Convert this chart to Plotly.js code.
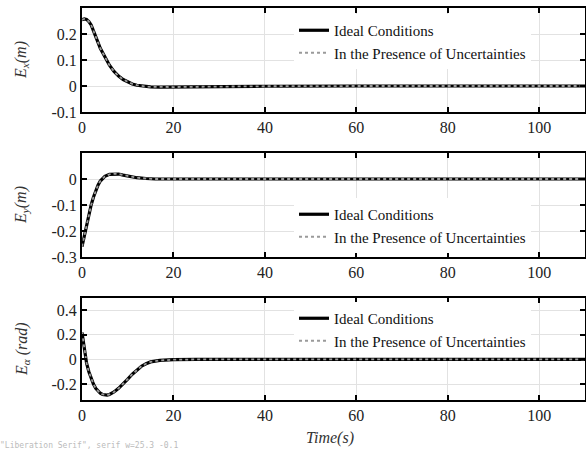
<!DOCTYPE html>
<html><head><meta charset="utf-8">
<script src="https://cdn.plot.ly/plotly-3.0.1.min.js"></script>
<style>
body{margin:0;background:#fff;font-family:"Liberation Serif",serif}
#c{width:586px;height:450px}
#dbg{position:absolute;left:0;top:441px;font:8px monospace;color:#bbb;white-space:nowrap}
</style>
</head><body><div id="c"></div><div id="dbg"></div>
<script>
// Time samples (s) and error values
const tX  = [0,0.5,1,1.5,2,2.5,3,3.5,4,5,6,7,8,9,10,11,12,13,14,15,17,20,25,30,40,60,80,110];
const ex  = [0.255,0.258,0.256,0.248,0.235,0.215,0.192,0.168,0.145,0.11,0.08,0.056,0.038,0.025,0.015,0.008,0.003,0,-0.002,-0.003,-0.004,-0.004,-0.003,-0.002,-0.001,0,0,0];

const tY  = [0,0.5,1,1.5,2,2.5,3,3.5,4,5,6,7,8,9,10,12,14,16,20,30,40,60,80,110];
const ey  = [-0.26,-0.22,-0.17,-0.13,-0.1,-0.07,-0.045,-0.024,-0.008,0.01,0.018,0.02,0.019,0.015,0.011,0.005,0.002,0,0,0,0,0,0,0];

const tA  = [0,0.3,0.6,1,1.5,2,2.5,3,3.5,4,4.5,5,5.5,6,7,8,9,10,11,12,13,14,15,17,20,25,40,60,80,110];
const ea  = [0.22,0.15,0.06,-0.03,-0.1,-0.16,-0.2,-0.235,-0.258,-0.275,-0.285,-0.29,-0.29,-0.285,-0.265,-0.235,-0.2,-0.16,-0.12,-0.085,-0.055,-0.035,-0.02,-0.008,-0.002,0,0,0,0,0];

const seriesNames = ['Ideal Conditions','In the Presence of Uncertainties'];
const xTicks = [0,20,40,60,80,100];
const y1Ticks = [-0.1,0,0.1,0.2], y1Text = ['-0.1','0','0.1','0.2'];
const y2Ticks = [-0.3,-0.2,-0.1,0], y2Text = ['-0.3','-0.2','-0.1','0'];
const y3Ticks = [-0.2,0,0.2,0.4], y3Text = ['-0.2','0','0.2','0.4'];
const yLabels = ['<i>E</i><sub><i>x</i></sub><i>(m)</i>','<i>E</i><sub><i>y</i></sub><i>(m)</i>','<i>E</i><sub><i>α</i></sub><i> (rad)</i>'];
const xLabel = '<i>Time(s)</i>';

const FONT = '"Liberation Serif", serif';
const W = 503, H = 450, L = 82;
function px(xp){return (xp-L)/W;}
function py(yp){return 1-yp/H;}

const sets = [[tX,ex],[tY,ey],[tA,ea]];
const traces = [];
sets.forEach((s,i)=>{
  const sfx = i===0?'':String(i+1);
  traces.push({x:s[0],y:s[1],mode:'lines',name:seriesNames[0],line:{color:'#000',width:3.2},
    xaxis:'x'+sfx,yaxis:'y'+sfx,legend:'legend'+sfx});
  traces.push({x:s[0],y:s[1],mode:'lines',name:seriesNames[1],line:{color:'#9a9a9a',width:1.8,dash:'dot'},
    xaxis:'x'+sfx,yaxis:'y'+sfx,legend:'legend'+sfx});
});

function xa(anchor){return {range:[0,110],tickvals:xTicks,ticks:'inside',ticklen:5,tickwidth:2,tickcolor:'#000',
  showline:true,linecolor:'#000',linewidth:2,mirror:'ticks',showgrid:true,gridcolor:'#e2e2e2',gridwidth:1,zeroline:false,
  anchor:anchor,tickfont:{family:FONT,size:16,color:'#222'},domain:[0,1]};}
function ya(anchor,range,tv,tt,dom){return {range:range,tickvals:tv,ticktext:tt,ticks:'inside',ticklen:5,tickwidth:2,tickcolor:'#000',
  showline:true,linecolor:'#000',linewidth:2,mirror:'ticks',showgrid:true,gridcolor:'#e2e2e2',gridwidth:1,zeroline:false,
  anchor:anchor,domain:dom,tickfont:{family:FONT,size:16,color:'#222'}};}
function lg(ytop){return {x:px(294),y:py(ytop),xanchor:'left',yanchor:'top',bgcolor:'#fff',borderwidth:0,
  font:{family:FONT,size:15,color:'#111'}};}

const annFont = {family:FONT,size:16,color:'#333'};
const layout = {
  width:586,height:450,margin:{l:L,r:1,t:0,b:0},paper_bgcolor:'#fff',plot_bgcolor:'#fff',
  font:{family:FONT,size:16},
  xaxis:xa('y'),xaxis2:xa('y2'),xaxis3:xa('y3'),
  yaxis:ya('x',[-0.1,0.3],y1Ticks,y1Text,[py(112),py(8)]),
  yaxis2:ya('x2',[-0.3,0.1],y2Ticks,y2Text,[py(257),py(153)]),
  yaxis3:ya('x3',[-0.33,0.5],y3Ticks,y3Text,[py(400),py(298)]),
  legend:lg(14),legend2:lg(198),legend3:lg(302),
  annotations:[
    {text:yLabels[0],xref:'paper',yref:'paper',x:px(22),y:py(60),xanchor:'center',yanchor:'middle',textangle:-90,showarrow:false,font:annFont},
    {text:yLabels[1],xref:'paper',yref:'paper',x:px(22),y:py(205),xanchor:'center',yanchor:'middle',textangle:-90,showarrow:false,font:annFont},
    {text:yLabels[2],xref:'paper',yref:'paper',x:px(22),y:py(349),xanchor:'center',yanchor:'middle',textangle:-90,showarrow:false,font:annFont},
    {text:xLabel,xref:'paper',yref:'paper',x:px(330),y:py(438),xanchor:'center',yanchor:'middle',showarrow:false,font:annFont}
  ]
};
Plotly.newPlot('c',traces,layout,{displayModeBar:false,staticPlot:true}).then(()=>{
  const t=document.querySelector('#c .ytick text');
  if(t){document.getElementById('dbg').textContent=getComputedStyle(t).fontFamily+' w='+t.getComputedTextLength().toFixed(1)+' '+t.textContent;}
});
</script></body></html>
